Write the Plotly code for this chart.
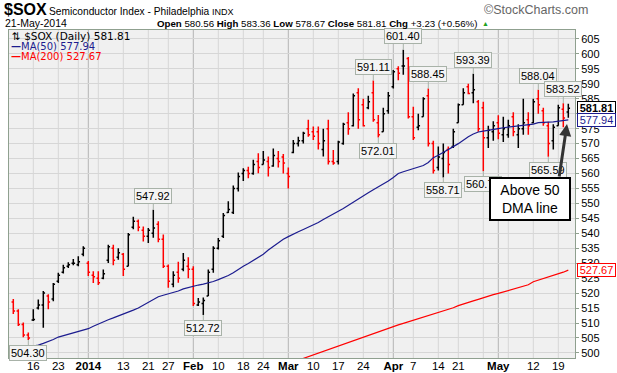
import pandas as pd
import plotly.graph_objects as go

# ---------------- data ----------------
holidays = ["2013-12-25", "2014-01-01", "2014-01-20", "2014-02-17", "2014-04-18"]
dates = [d for d in pd.bdate_range("2013-12-10", "2014-05-21") if d.strftime("%Y-%m-%d") not in holidays]

opens = [517, 514, 509.5, 506, 511, 515, 516, 519, 518, 524, 527, 529, 530, 529.5, 533,
         530, 526, 525, 525, 531, 535, 532, 533, 529, 542, 544, 541, 539, 540, 543, 538, 529, 523, 527, 528, 529,
         528, 516, 516.5, 519, 528, 535, 539, 547, 547, 555, 560, 561, 560, 564, 563, 564, 562.5, 565, 565.5,
         560, 567, 570, 571, 575, 574, 574, 568, 575, 564, 564, 570, 577, 576, 587, 583, 582, 587, 577, 574, 581,
         589, 595, 596, 598.5, 579, 575.5, 579, 586, 570, 562, 565, 568, 569, 577, 583, 589, 587, 584, 582, 572, 574,
         577, 573, 573, 579, 573, 575, 578, 577, 585, 581, 576, 571, 576, 581.5, 580.56]
highs = [518, 514.6, 510.2, 506.8, 514.6, 517.9, 520.7, 519.6, 523.4, 526.8, 529.5, 530.3, 531.4, 532.3, 535.7,
         530.7, 527.3, 527.3, 527.9, 536.2, 536.2, 535, 533.4, 540.1, 545.5, 544.6, 542.3, 541.8, 547.92, 544, 539.6, 529.6, 527.3, 530.5, 533.4, 532,
         529, 518.4, 518.5, 527.9, 535.7, 538.4, 546.8, 550.7, 556, 560.3, 561.8, 562.3, 564.6, 566.8, 567.5, 565.7, 568.4, 567.5, 566.5,
         562, 571.2, 572.3, 574, 578, 575.7, 575.7, 575, 578, 567.9, 571, 577, 580.5, 586.8, 588.5, 585, 586, 591.11, 579.6, 582, 587.3,
         594.6, 595.9, 601.40, 599, 582.3, 580, 585.5, 588.45, 571, 569, 570, 569, 575, 583.4, 588.5, 590, 593.39, 584.6, 584, 576, 577.5,
         579.5, 579, 578, 580.5, 576.5, 585, 580.5, 585, 588.04, 582, 577.3, 576.5, 583, 583.52, 583.36]
lows = [513, 509, 505.2, 504.30, 510.7, 514.5, 508.4, 514.6, 517.3, 523.4, 526.6, 528.4, 529.3, 529, 532.3,
        525.7, 523.4, 522.7, 524.6, 530.1, 529.3, 531.2, 525.7, 529, 541.4, 540.7, 537.3, 536.8, 538.5, 537, 528.4, 521.8, 522, 523.5, 527.3, 525,
        515.7, 515.7, 512.72, 519, 526.8, 534.6, 538.4, 546.8, 546.5, 554, 557.5, 558.4, 559.6, 560.1, 563, 559, 562.3, 562, 560,
        555, 566.8, 569, 570, 572.3, 571.2, 568, 565.7, 563, 562.9, 563, 569.6, 573, 575.7, 575, 575.7, 581.5, 577.3, 572.01, 574, 580,
        588.4, 591.2, 593, 578.4, 571.2, 574.5, 579, 569, 560, 561, 558.71, 560, 568.5, 577, 583, 586.5, 583.5, 574, 560.73, 568.5, 571,
        571.5, 570.5, 572, 572.5, 568.5, 573, 573, 576.8, 580, 576, 565.59, 568, 576, 575.5, 578.67]
closes = [514, 509.5, 506, 505, 511.2, 516, 520, 517, 523, 526, 528.5, 529.5, 530, 530.5, 535,
          527, 525.5, 523.5, 526.5, 535.5, 531, 533.5, 528, 539.5, 544, 542, 539, 541, 541.8, 538, 529, 524, 526, 525, 531, 528,
          516.5, 517, 517.5, 527, 535, 537.5, 546, 548, 555, 559, 561, 560, 563, 562, 564.5, 562, 566, 564, 563.5,
          559, 570, 571, 573.5, 573, 572.5, 570, 571, 564, 563.5, 570.5, 576.5, 575, 586, 578, 576, 584, 578, 573, 580, 586,
          594, 593.5, 596, 579, 572, 576, 585, 570, 561, 565.5, 567, 563, 574, 583, 587, 586.8, 588, 575, 572, 574.5, 576,
          573.5, 575, 576, 574, 575, 577, 576, 584, 583, 577, 570, 575.5, 582, 578.58, 581.81]

ma50 = [501.0, 501.3, 501.6, 501.9, 502.2, 502.6, 503.2, 503.8, 504.5, 505.3, 505.8, 506.3, 506.8, 507.3, 507.7,
        508.1, 508.9, 509.7, 510.4, 511.1, 511.7, 512.3, 512.9, 513.6, 514.3, 515.0, 515.9, 516.8, 517.8, 518.8, 519.3, 519.8, 520.1, 520.7, 521.4, 521.9,
        522.3, 522.7, 523.0, 523.4, 523.9, 524.5, 525.1, 525.9, 526.8, 528.0, 529.0, 529.9, 530.9, 532.0, 533.0, 534.4, 535.6, 537.0, 538.0,
        538.9, 539.6, 540.5, 541.3, 542.0, 542.8, 543.6, 544.6, 545.6, 546.5, 547.4, 548.3, 549.4, 550.5, 551.6, 552.6, 553.6, 554.6, 555.5, 556.5, 557.5,
        558.7, 560.0, 560.6, 561.1, 561.5, 562.0, 562.7, 563.7, 565.3, 566.1, 567.0, 568.0, 569.0, 570.0, 571.2, 572.3, 573.2, 573.9, 574.2, 574.4, 574.7,
        575.0, 575.3, 575.5, 575.8, 576.0, 576.1, 576.2, 576.5, 577.0, 577.2, 577.2, 577.3, 577.5, 577.7, 577.94]
ma200_start = 52
ma200 = [494.6, 495.2, 495.8, 496.4, 497.0, 497.6, 498.2, 498.8, 499.4, 500.0, 500.6, 501.2, 501.8, 502.4, 503.0,
         503.6, 504.2, 504.8, 505.4, 506.0, 506.6, 507.2, 507.8, 508.4, 508.9, 509.4, 509.9, 510.4, 511.0, 511.5,
         512.1, 512.6, 513.1, 513.5, 514.0, 514.5, 515.1, 515.8, 516.4, 516.9, 517.4, 517.9, 518.5, 519.0, 519.5,
         519.9, 520.4, 520.8, 521.3, 521.8, 522.3, 522.8, 523.8, 524.3, 524.8, 525.3, 525.8, 526.4, 527.0, 527.67]

high_label_idx = [28, 72, 78, 83, 92, 105, 110]
low_label_idx = [3, 38, 73, 86, 94, 107]

tick_dates = ["2013-12-16", "2013-12-23", "2014-01-02", "2014-01-13", "2014-01-21", "2014-01-27", "2014-02-03",
              "2014-02-10", "2014-02-18", "2014-02-24", "2014-03-03", "2014-03-10", "2014-03-17", "2014-03-24",
              "2014-04-01", "2014-04-07", "2014-04-14", "2014-04-21", "2014-05-01", "2014-05-12", "2014-05-19"]
tick_text = ["16", "23", "<b>2014</b>", "13", "21", "27", "<b>Feb</b>", "10", "18", "24", "<b>Mar</b>", "10", "17", "24",
             "<b>Apr</b>", "7", "14", "21", "<b>May</b>", "12", "19"]
extra_grid_dates = ["2013-12-30", "2014-01-06", "2014-03-31", "2014-04-28", "2014-05-05"]
month_dates = ["2014-01-02", "2014-02-03", "2014-03-03", "2014-04-01", "2014-05-01"]
y_ticks = list(range(500, 606, 5))
y_hidden_labels = [580]  # covered by the last-close box in the reference

# ---------------- build ----------------
W, H = 617, 373
ML, MR, MT, MB = 9, 42, 30, 15
PW, PH = W - ML - MR, H - MT - MB


def px(xp):
    return (xp - ML) / PW


def py(yp):
    return 1 - (yp - MT) / PH


n = len(dates)
idx = list(range(n))
pos = {d.strftime("%Y-%m-%d"): i for i, d in enumerate(dates)}

up, dn = [], []
for i in idx:
    if i == 0 or closes[i] < closes[i - 1]:
        dn.append(i)
    else:
        up.append(i)

fig = go.Figure()

shapes = []
for d in tick_dates + extra_grid_dates:
    col = "#b4b4b4" if d in month_dates else "#d6d6d6"
    shapes.append(dict(type="line", xref="x", yref="paper", x0=pos[d], x1=pos[d], y0=0, y1=1,
                       line=dict(color=col, width=1), layer="below"))

fig.add_trace(go.Scatter(x=idx, y=ma50, mode="lines", line=dict(color="#1c1c8f", width=1.2), hoverinfo="skip"))
fig.add_trace(go.Scatter(x=idx[ma200_start:], y=ma200, mode="lines", line=dict(color="#ff0000", width=1.2),
                         hoverinfo="skip"))

for sel, col in ((up, "#000000"), (dn, "#ff0000")):
    fig.add_trace(go.Ohlc(
        x=sel, open=[opens[i] for i in sel], high=[highs[i] for i in sel],
        low=[lows[i] for i in sel], close=[closes[i] for i in sel],
        increasing=dict(line=dict(color=col, width=1.5)),
        decreasing=dict(line=dict(color=col, width=1.5)),
        tickwidth=0.35, hoverinfo="skip"))

FONT = "Liberation Sans, Arial, sans-serif"
VFONT = "DejaVu Sans, Verdana, sans-serif"
box_col = "#a8b2a8"
ann = []
for i in high_label_idx:
    ann.append(dict(x=i, y=highs[i], xref="x", yref="y", text="%.2f" % highs[i], showarrow=True,
                    arrowhead=0, arrowcolor=box_col, arrowwidth=1, ax=0, ay=-14, standoff=0,
                    font=dict(family=FONT, size=11, color="#000"), bgcolor="#f4f4f4",
                    bordercolor=box_col, borderwidth=1, borderpad=1))
for i in low_label_idx:
    ann.append(dict(x=i, y=lows[i], xref="x", yref="y", text="%.2f" % lows[i], showarrow=True,
                    arrowhead=0, arrowcolor=box_col, arrowwidth=1, ax=0, ay=13, standoff=0,
                    font=dict(family=FONT, size=11, color="#000"), bgcolor="#f4f4f4",
                    bordercolor=box_col, borderwidth=1, borderpad=1))

# right side value boxes
for val, col, bold in ((closes[-1], "#000000", True), (ma50[-1], "#1c1c8f", False), (ma200[-1], "#ff0000", False)):
    txt = "%.2f" % val
    if bold:
        txt = "<b>" + txt + "</b>"
    ann.append(dict(x=1.0, xref="paper", xanchor="left", xshift=2, y=val, yref="y", yanchor="middle", text=txt,
                    showarrow=False, font=dict(family=FONT, size=11, color=col), bgcolor="#ffffff", width=37,
                    bordercolor=col, borderwidth=1, borderpad=0))

# in-plot legend
ann += [
    dict(x=px(10), y=py(36), xref="paper", yref="paper", xanchor="left", yanchor="middle", showarrow=False,
         text="⇅ $SOX (Daily) %.2f" % closes[-1], font=dict(family=VFONT, size=10.5, color="#000")),
    dict(x=px(9), y=py(46.5), xref="paper", yref="paper", xanchor="left", yanchor="middle", showarrow=False,
         text="<b>—</b>MA(50) %.2f" % ma50[-1], font=dict(family=VFONT, size=10, color="#1c1c8f")),
    dict(x=px(9), y=py(57), xref="paper", yref="paper", xanchor="left", yanchor="middle", showarrow=False,
         text="<b>—</b>MA(200) %.2f" % ma200[-1], font=dict(family=VFONT, size=10, color="#ff0000")),
]

# header texts
hdr = [
    (2, 10, "<b>$SOX</b>", 16, "left", "#000"),
    (47, 11, "Semiconductor Index - Philadelphia <span style='font-size:9px'>INDX</span>", 10.2, "left", "#000"),
    (590, 10, "©StockCharts.com", 12.5, "right", "#666"),
    (3, 23, "21-May-2014", 10.5, "left", "#000"),
    (479, 23, "<b>Open</b> 580.56 <b>High</b> 583.36 <b>Low</b> 578.67 <b>Close</b> 581.81 <b>Chg</b> +3.23 (+0.56%)",
     9.7, "right", "#000"),
    (485, 23, "▲", 7, "center", "#1fa01f"),
]
for xp_, yp_, t, s, anc, c in hdr:
    ann.append(dict(x=px(xp_), y=py(yp_), xref="paper", yref="paper", xanchor=anc, yanchor="middle",
                    showarrow=False, text=t, font=dict(family=FONT, size=s, color=c)))

# callout
ann.append(dict(x=px(529.5), y=py(199), xref="paper", yref="paper", xanchor="center", yanchor="middle",
                showarrow=False, text="Above 50<br>DMA line",
                font=dict(family=FONT, size=14, color="#000"), bgcolor="#ffffff", bordercolor="#000000",
                borderwidth=2, borderpad=2, width=74, height=36))
ann.append(dict(x=px(567), y=py(124), xref="paper", yref="paper", ax=-8, ay=54, showarrow=True, text="",
                arrowhead=2, arrowsize=0.8, arrowwidth=3, arrowcolor="#333333"))

for a in ann:
    fig.add_annotation(**a)

fig.update_layout(
    width=W, height=H, margin=dict(l=ML, r=MR, t=MT, b=MB, autoexpand=False),
    paper_bgcolor="#ffffff", plot_bgcolor="#f0f0f0", showlegend=False, shapes=shapes,
    xaxis=dict(range=[-0.86, 112.34], tickmode="array", tickvals=[pos[d] for d in tick_dates], ticktext=tick_text,
               showgrid=False, zeroline=False, showline=True, linecolor="#8fa08f", mirror=True, automargin=False,
               ticks="", ticklabelstandoff=-3, tickfont=dict(family=FONT, size=11.5, color="#000"),
               rangeslider=dict(visible=False), fixedrange=True),
    yaxis=dict(range=[498.3, 608], side="right", tickmode="array", tickvals=y_ticks,
               ticktext=["" if v in y_hidden_labels else str(v) for v in y_ticks],
               showgrid=True, gridcolor="#d6d6d6", gridwidth=1, zeroline=False, showline=True, linecolor="#8fa08f",
               mirror=True, ticks="outside", ticklen=3, tickcolor="#8fa08f", automargin=False,
               tickfont=dict(family=FONT, size=11, color="#000"), fixedrange=True),
)

fig.write_html("out.html", config={"displayModeBar": False},
               post_script="document.body.style.margin='0';document.body.style.overflow='hidden';")
